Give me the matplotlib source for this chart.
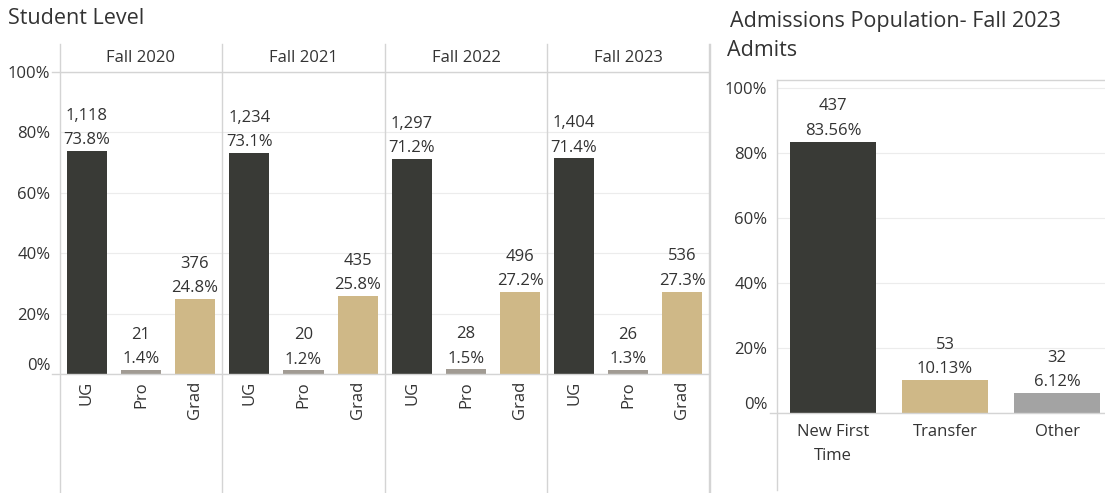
import matplotlib.pyplot as plt
from matplotlib.lines import Line2D

# DATA
years = ['Fall 2020', 'Fall 2021', 'Fall 2022', 'Fall 2023']
levels = ['UG', 'Pro', 'Grad']
level_counts = [
    [1118, 21, 376],
    [1234, 20, 435],
    [1297, 28, 496],
    [1404, 26, 536],
]
level_pcts = [
    [73.8, 1.4, 24.8],
    [73.1, 1.2, 25.8],
    [71.2, 1.5, 27.2],
    [71.4, 1.3, 27.3],
]
admit_types = ['New First\nTime', 'Transfer', 'Other']
admit_counts = [437, 53, 32]
admit_pcts = [83.56, 10.13, 6.12]

# STYLE
W, H = 1105, 493
TXT = '#333333'
GRID = '#ececec'
LINE = '#d4d4d4'
FS = 12
TITLE_FS = 15.5
level_colors = ['#393a36', '#a19b93', '#cfb887']
admit_colors = ['#393a36', '#cfb887', '#a3a3a3']

plt.rcParams['font.family'] = ['Open Sans', 'DejaVu Sans']

fig = plt.figure(figsize=(W / 100, H / 100), dpi=100)


def box(x0, y0, x1, y1):
    # pixel box (top-left origin) -> figure fraction
    return [x0 / W, 1 - y1 / H, (x1 - x0) / W, (y1 - y0) / H]


def fline(x0, y0, x1, y1, color=LINE, lw=1.0):
    fig.add_artist(Line2D([x0 / W, x1 / W], [1 - y0 / H, 1 - y1 / H],
                          transform=fig.transFigure, color=color, lw=lw))


def pct(v):
    return f'{v:.0f}%'


# ---- Student Level ----
fig.text(8 / W, 1 - 18 / H, 'Student Level', fontsize=TITLE_FS, color=TXT,
         va='center', ha='left')

edges = [60, 222, 385, 547, 709]
for i, yr in enumerate(years):
    ax = fig.add_axes(box(edges[i], 72, edges[i + 1], 374))
    ax.bar(range(3), level_pcts[i], width=0.74, color=level_colors, zorder=3)
    for j in range(3):
        ax.annotate(f'{level_counts[i][j]:,}\n{level_pcts[i][j]:.1f}%',
                    (j, level_pcts[i][j]), xytext=(0, 2),
                    textcoords='offset points', ha='center', va='bottom',
                    fontsize=FS, color=TXT, linespacing=1.7)
    ax.set_xlim(-0.5, 2.5)
    ax.set_ylim(0, 100)
    ax.set_yticks([0, 20, 40, 60, 80, 100])
    ax.grid(axis='y', color=GRID, lw=0.8, zorder=0)
    ax.set_xticks(range(3))
    ax.set_xticklabels(levels, rotation=90, fontsize=FS, color=TXT)
    ax.tick_params(axis='x', length=0, pad=5)
    if i == 0:
        ax.set_yticklabels([pct(v) for v in ax.get_yticks()], fontsize=FS,
                           color=TXT)
        ax.get_yticklabels()[0].set_verticalalignment('bottom')
        ax.tick_params(axis='y', length=0, pad=7)
    else:
        ax.tick_params(axis='y', length=0, labelleft=False)
    for s in ax.spines.values():
        s.set_visible(False)
    fig.text((edges[i] + edges[i + 1]) / 2 / W, 1 - 58 / H, yr, fontsize=FS,
             color=TXT, ha='center', va='center')

for x in edges:
    fline(x, 44, x, 493)
fline(52, 72, 709, 72)
fline(52, 374, 709, 374)

# ---- Admissions ----
fig.text(730 / W, 1 - 22 / H, 'Admissions Population- Fall 2023',
         fontsize=TITLE_FS, color=TXT, va='center', ha='left')
fig.text(727 / W, 1 - 50 / H, 'Admits', fontsize=TITLE_FS, color=TXT,
         va='center', ha='left')

ax2 = fig.add_axes(box(777, 80, 1113, 413))
ax2.bar(range(3), admit_pcts, width=0.76, color=admit_colors, zorder=3)
for j in range(3):
    ax2.annotate(f'{admit_counts[j]}\n{admit_pcts[j]:.2f}%',
                 (j, admit_pcts[j]), xytext=(0, 2), textcoords='offset points',
                 ha='center', va='bottom', fontsize=FS, color=TXT,
                 linespacing=1.7)
ax2.set_xlim(-0.5, 2.5)
ax2.set_ylim(0, 102.5)
ax2.set_yticks([0, 20, 40, 60, 80, 100])
ax2.set_yticklabels([pct(v) for v in ax2.get_yticks()], fontsize=FS, color=TXT)
ax2.get_yticklabels()[0].set_verticalalignment('bottom')
ax2.grid(axis='y', color=GRID, lw=0.8, zorder=0)
ax2.set_xticks(range(3))
ax2.set_xticklabels(admit_types, fontsize=FS, color=TXT, linespacing=1.65,
                    va='top')
ax2.tick_params(axis='x', length=0, pad=8)
ax2.tick_params(axis='y', length=0, pad=7)
for s in ax2.spines.values():
    s.set_visible(False)
fline(710, 44, 710, 493)
fline(777, 80, 777, 490)
fline(777, 80, 1105, 80)
fline(770, 413, 1105, 413)

fig.savefig('out.png', dpi=100)
